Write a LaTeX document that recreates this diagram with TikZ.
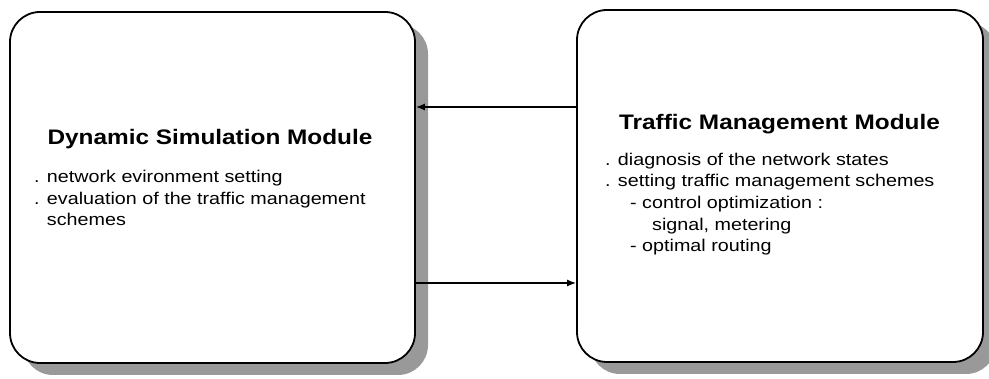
\documentclass[tikz,border=0pt]{standalone}
\usepackage{fontspec}
\setmainfont{Liberation Sans}[FakeStretch=1.16]
\usetikzlibrary{arrows.meta,shadows}
\begin{document}
\begin{tikzpicture}[x=1pt,y=1pt,
  module/.style={draw=black,line width=1.8pt,fill=white,rounded corners=30pt,
    minimum width=405pt,minimum height=351pt,
    drop shadow={shadow xshift=13pt,shadow yshift=-12pt,fill=black!40,opacity=1}},
  title/.style={font=\fontsize{21}{25}\selectfont\bfseries,anchor=base,inner sep=0pt},
  body/.style={font=\fontsize{17}{21.7}\selectfont,align=left,anchor=base west,inner sep=0pt},
  link/.style={line width=1.4pt,-{Latex[length=9pt,width=7pt]}}]
\useasboundingbox (0,0) rectangle (989,379);
% the two modules
\node[module] (dsm) at (212.5,191.5) {};
\node[module,minimum width=406pt,minimum height=352pt] (tmm) at (780,193) {};
% titles
\node[title] (dsmt) at (210,234) {Dynamic Simulation Module};
\node[title] (tmmt) at (779.5,249) {Traffic Management Module};
% item lists (node base = baseline of the last line)
\node[body] (dsmb) at (34,153) {. network evironment setting\\
. evaluation of the traffic management\\
\phantom{. }schemes};
\node[body] (tmmb) at (605,127) {. diagnosis of the network states\\
. setting traffic management schemes\\
\hspace*{25pt}- control optimization :\\
\hspace*{47pt}signal, metering\\
\hspace*{25pt}- optimal routing};
% exchanges between the modules
\draw[link] (tmm.west |- 0,272) -- (dsm.east |- 0,272);
\draw[link] (dsm.east |- 0,96) -- (tmm.west |- 0,96);
\end{tikzpicture}
\end{document}
